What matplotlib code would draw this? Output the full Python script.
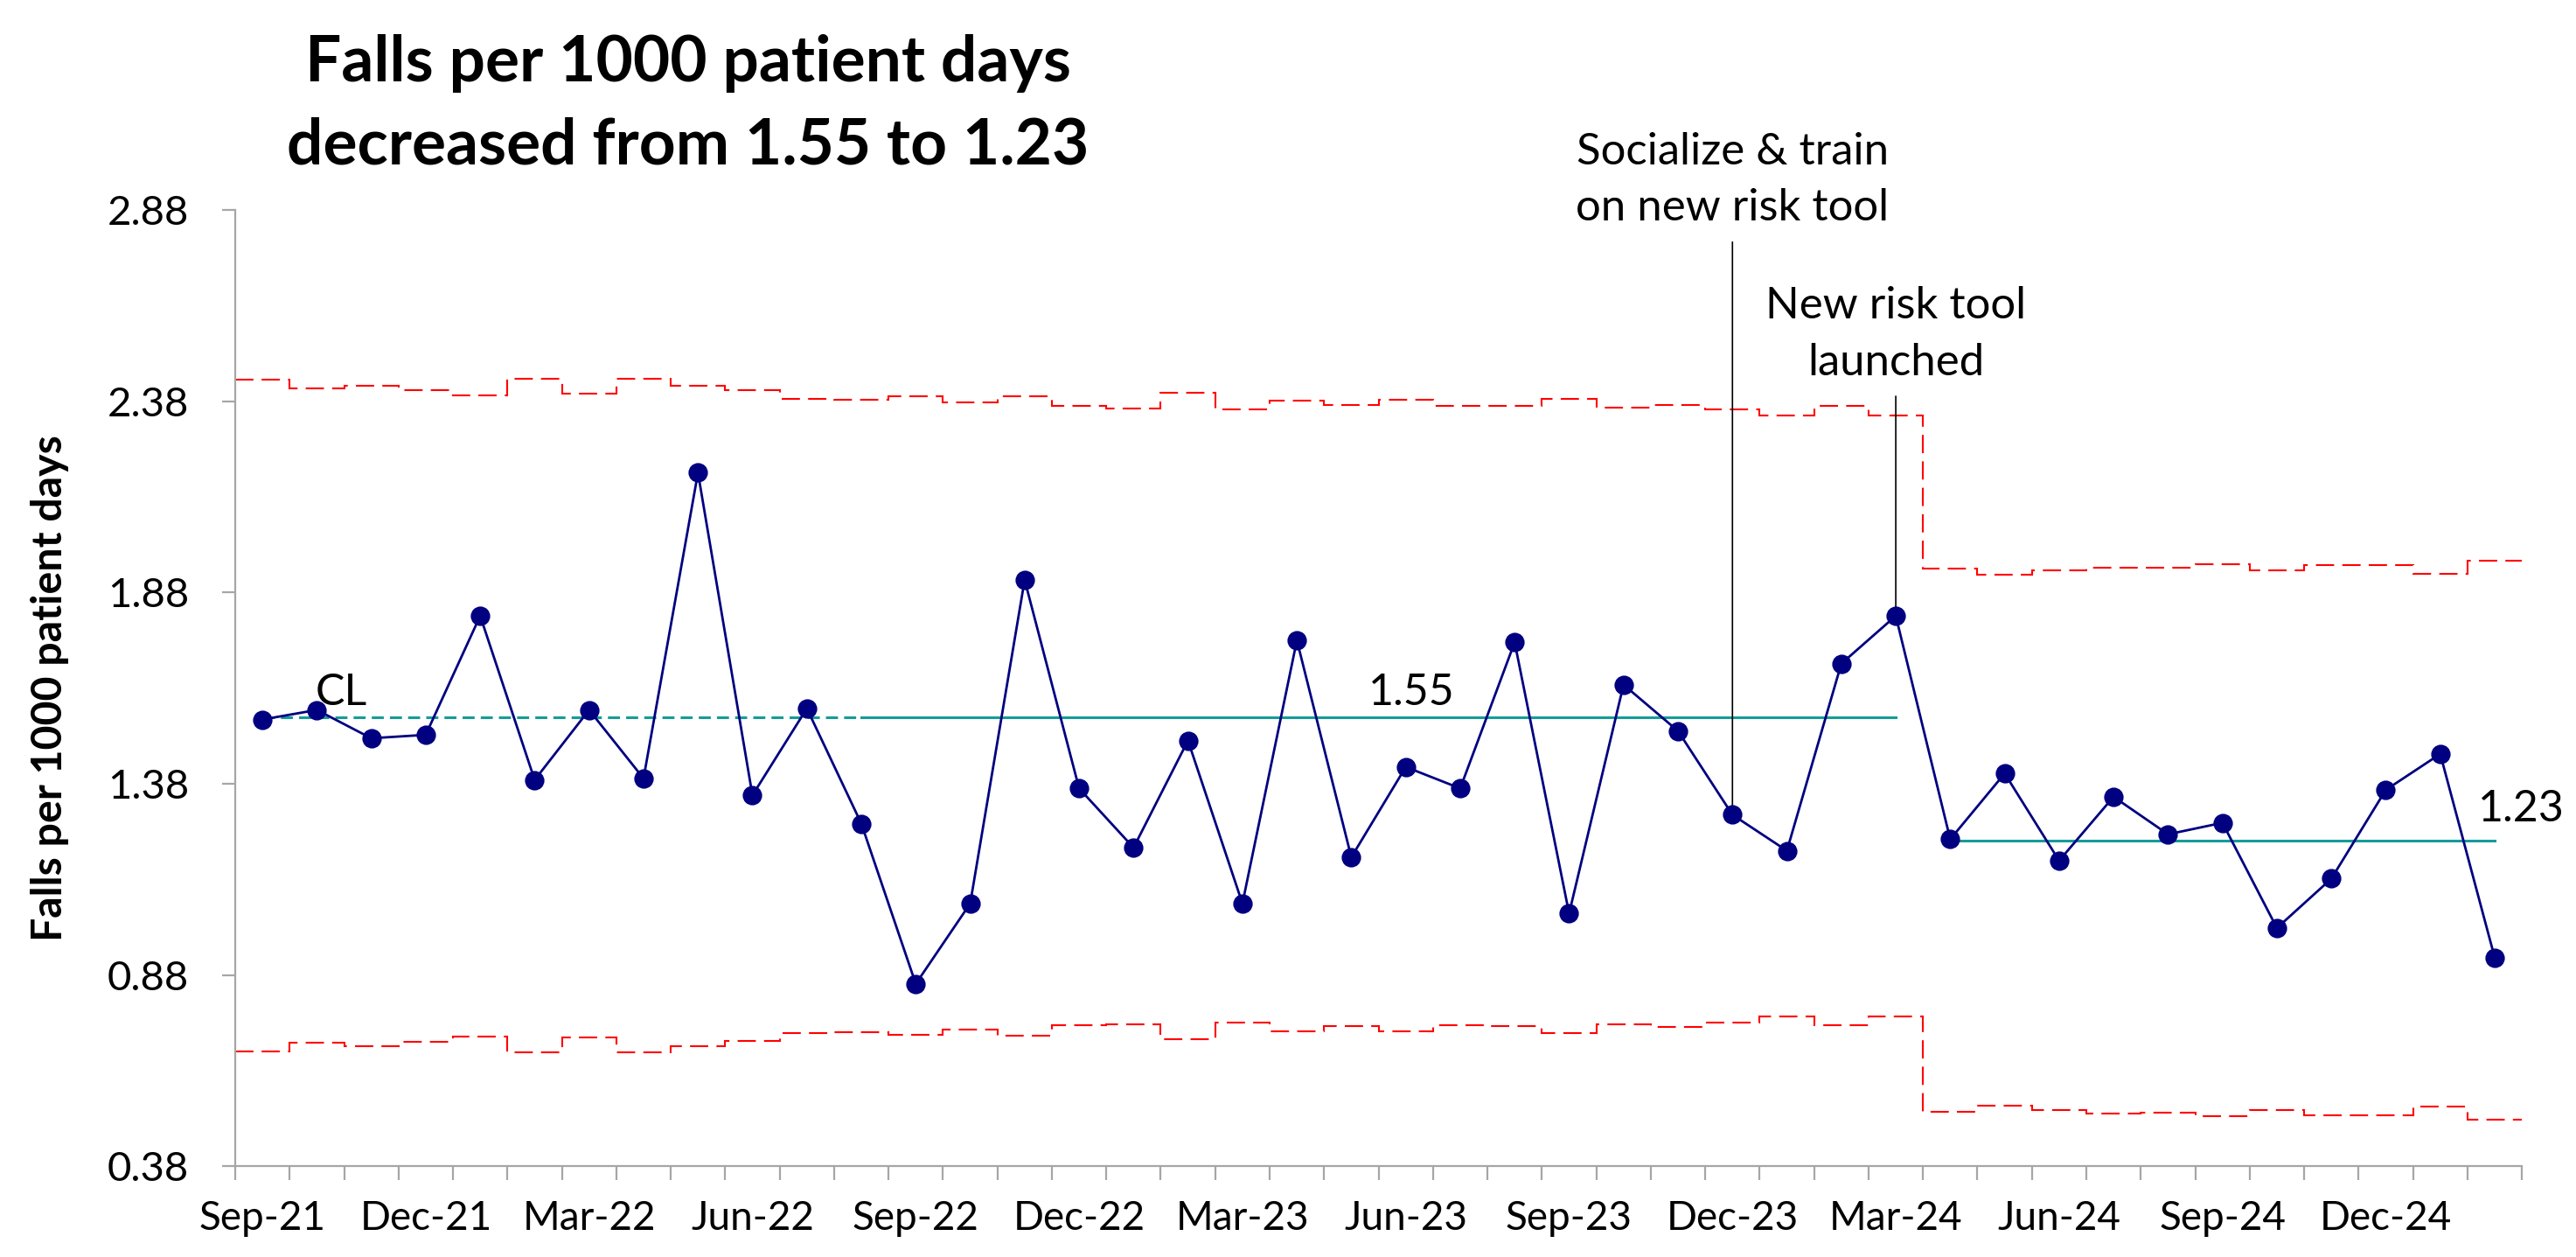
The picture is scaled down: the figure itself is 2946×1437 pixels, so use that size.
import matplotlib
matplotlib.use('Agg')
import matplotlib.pyplot as plt
import numpy as np

# Monthly u-chart: falls per 1000 patient days
months = ['Sep-21', 'Oct-21', 'Nov-21', 'Dec-21', 'Jan-22', 'Feb-22', 'Mar-22',
          'Apr-22', 'May-22', 'Jun-22', 'Jul-22', 'Aug-22', 'Sep-22', 'Oct-22',
          'Nov-22', 'Dec-22', 'Jan-23', 'Feb-23', 'Mar-23', 'Apr-23', 'May-23',
          'Jun-23', 'Jul-23', 'Aug-23', 'Sep-23', 'Oct-23', 'Nov-23', 'Dec-23',
          'Jan-24', 'Feb-24', 'Mar-24', 'Apr-24', 'May-24', 'Jun-24', 'Jul-24',
          'Aug-24', 'Sep-24', 'Oct-24', 'Nov-24', 'Dec-24', 'Jan-25', 'Feb-25']

rates = [1.548, 1.573, 1.499, 1.508, 1.819, 1.390, 1.573, 1.394, 2.193, 1.350,
         1.577, 1.276, 0.857, 1.067, 1.913, 1.368, 1.213, 1.493, 1.067, 1.755,
         1.188, 1.424, 1.368, 1.750, 1.041, 1.639, 1.518, 1.299, 1.205, 1.694,
         1.819, 1.235, 1.407, 1.179, 1.346, 1.248, 1.278, 1.003, 1.132, 1.364,
         1.458, 0.926]

ucl = [2.436, 2.413, 2.421, 2.409, 2.396, 2.438, 2.399, 2.439, 2.421, 2.408,
       2.386, 2.384, 2.393, 2.378, 2.394, 2.368, 2.362, 2.403, 2.359, 2.381,
       2.369, 2.383, 2.368, 2.368, 2.387, 2.364, 2.371, 2.359, 2.343, 2.368,
       2.343, 1.942, 1.926, 1.938, 1.945, 1.944, 1.953, 1.939, 1.952, 1.951,
       1.929, 1.962]

lcl = [0.681, 0.703, 0.694, 0.706, 0.720, 0.678, 0.717, 0.678, 0.694, 0.707,
       0.729, 0.731, 0.723, 0.738, 0.722, 0.748, 0.752, 0.712, 0.755, 0.734,
       0.747, 0.732, 0.748, 0.747, 0.729, 0.751, 0.745, 0.755, 0.771, 0.748,
       0.771, 0.523, 0.539, 0.527, 0.519, 0.520, 0.512, 0.527, 0.513, 0.514,
       0.537, 0.502]

cl_before = 1.554   # baseline centre line
cl_after = 1.232    # after new risk tool
baseline_end = 11   # last month of the baseline period
phase2_start = 31   # first month of the new phase

y_ticks = [0.38, 0.88, 1.38, 1.88, 2.38, 2.88]

COLORS = {
    'data': '#000080',
    'limits': '#FF0000',
    'cl': '#169C98',
    'axis': '#A6A6A6',
    'text': '#000000',
}

plt.rcParams.update({
    'font.family': 'Lato',
    'font.size': 16.5,
    'axes.spines.top': False,
    'axes.spines.right': False,
    'figure.facecolor': 'white',
})

fig = plt.figure(figsize=(14.73, 7.185), dpi=200)
ax = fig.add_axes([0.0913, 0.0721, 0.8877, 0.7609])

x = np.arange(len(months))
edges = np.arange(len(months) + 1) - 0.5

# control limits as steps
ax.stairs(ucl, edges, baseline=None, color=COLORS['limits'], lw=0.75,
          linestyle=(0, (10, 4.5)), zorder=2)
ax.stairs(lcl, edges, baseline=None, color=COLORS['limits'], lw=0.75,
          linestyle=(0, (10, 4.5)), zorder=2)

# centre lines
ax.plot([0, baseline_end], [cl_before, cl_before], color=COLORS['cl'], lw=1.1,
        linestyle=(0, (4.5, 2.3)), zorder=3)
ax.plot([baseline_end, phase2_start - 1], [cl_before, cl_before],
        color=COLORS['cl'], lw=1.1, zorder=3)
ax.plot([phase2_start, len(months) - 1], [cl_after, cl_after],
        color=COLORS['cl'], lw=1.1, zorder=3)

# data
ax.plot(x, rates, color=COLORS['data'], lw=1.0, marker='o', ms=7,
        zorder=5)

ax.text(0.98, cl_before + 0.012, 'CL', fontsize=18, ha='left', va='bottom')
ax.text(21.1, cl_before + 0.012, f'{cl_before:.2f}', fontsize=18,
        ha='center', va='bottom')
ax.text(40.7, cl_after + 0.03, f'{cl_after:.2f}', fontsize=18,
        ha='left', va='bottom')

ax.annotate('Socialize & train\non new risk tool', xy=(27, rates[27]),
            xytext=(27, 2.831), ha='center', va='bottom', fontsize=18.3,
            linespacing=1.5, annotation_clip=False,
            arrowprops=dict(arrowstyle='-', color='black', lw=0.6,
                            shrinkA=3.5, shrinkB=0, relpos=(0.5, 0)),
            zorder=4)
ax.annotate('New risk tool\nlaunched', xy=(30, rates[30]),
            xytext=(30, 2.428), ha='center', va='bottom', fontsize=18.3,
            linespacing=1.5, annotation_clip=False,
            arrowprops=dict(arrowstyle='-', color='black', lw=0.6,
                            shrinkA=3.5, shrinkB=0, relpos=(0.5, 0)),
            zorder=4)

ax.set_xlim(-0.5, len(months) - 0.5)
ax.set_ylim(y_ticks[0], y_ticks[-1])
ax.set_yticks(y_ticks)
ax.set_yticklabels([f'{t:.2f}' for t in y_ticks])
ax.set_xticks(x[::3])
ax.set_xticklabels(months[::3])
ax.set_xticks(edges, minor=True)

for side in ('left', 'bottom'):
    ax.spines[side].set_color(COLORS['axis'])
    ax.spines[side].set_linewidth(0.8)
ax.tick_params(axis='y', length=5.5, width=0.8, color=COLORS['axis'],
               pad=13.5, labelsize=17)
ax.tick_params(axis='x', which='major', length=0, pad=14, labelsize=16.5)
ax.tick_params(axis='x', which='minor', length=5.6, width=0.8,
               color=COLORS['axis'])

ax.set_ylabel('Falls per 1000 patient days', fontsize=17.4, fontweight='bold')
ax.yaxis.set_label_coords(-0.0725, 0.5)

fig.text(0.267, 0.9165, 'Falls per 1000 patient days\ndecreased from 1.55 to 1.23',
         ha='center', va='center', fontsize=26.3, fontweight='bold',
         linespacing=1.5)

plt.savefig('out.png', dpi=200, facecolor='white', edgecolor='none')
plt.close()
